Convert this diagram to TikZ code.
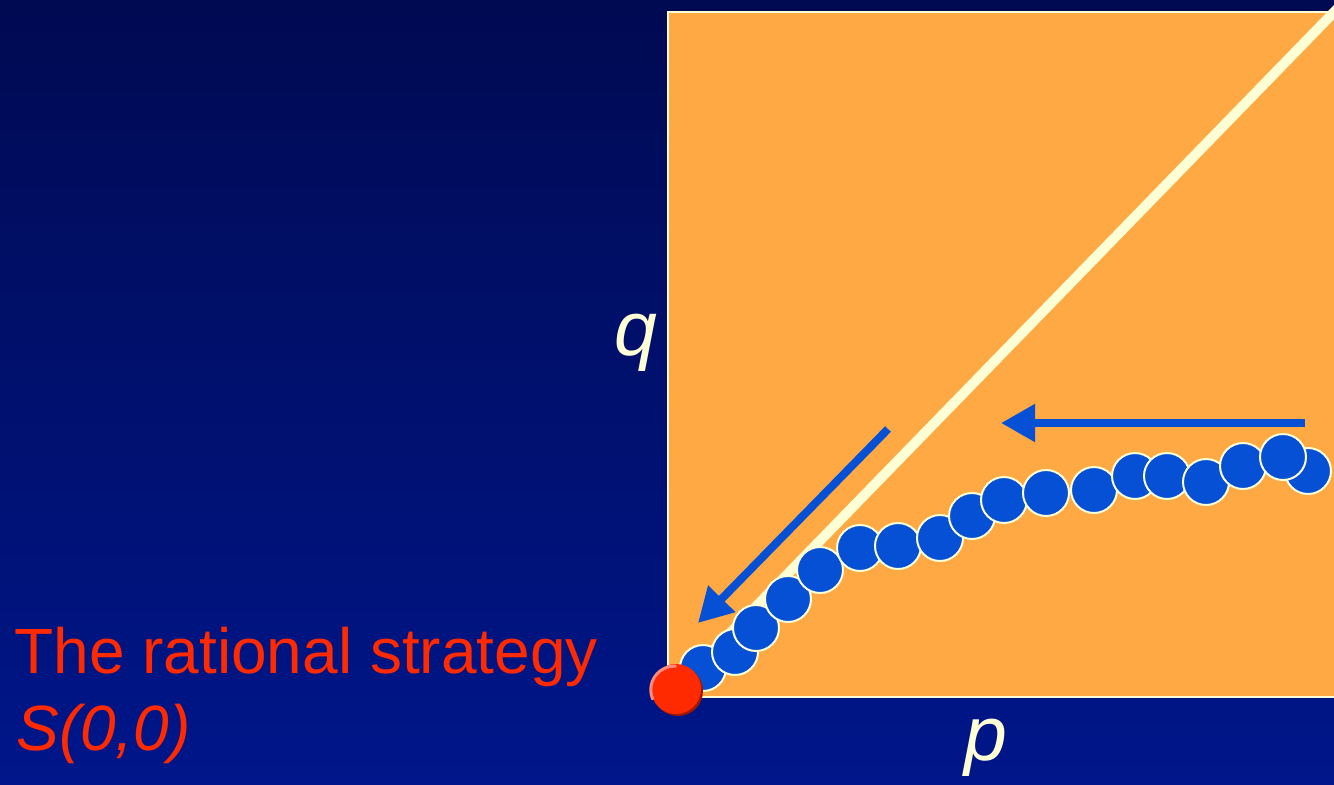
\documentclass[tikz,border=0pt]{standalone}
\usepackage{fontspec}
\setmainfont{Liberation Sans}
\usepackage{tikz}
\usetikzlibrary{positioning,arrows.meta}
\definecolor{bgtop}{HTML}{000A52}
\definecolor{bgbot}{HTML}{00168A}
\definecolor{plane}{HTML}{FEA943}
\definecolor{cream}{HTML}{FFFFD6}
\definecolor{beadblue}{HTML}{0550D5}
\definecolor{stratred}{HTML}{FF2A00}
\definecolor{shadowred}{HTML}{A01800}
\definecolor{rimpink}{HTML}{FF8A80}

\begin{document}
\begin{tikzpicture}[
    x=0.5pt, y=-0.5pt,
    bead/.style={circle, draw=cream, line width=1pt, fill=beadblue, minimum size=23pt, inner sep=0pt},
    strat/.style={circle, fill=stratred, minimum size=25pt, inner sep=0pt},
    axislabel/.style={text=cream, font=\fontsize{38.5}{44}\selectfont\itshape, inner sep=0pt, anchor=base},
    caption/.style={text=stratred, font=\fontsize{32}{38}\selectfont, inner sep=0pt, anchor=base west},
    flow/.style={-{Triangle[length=17pt, width=18pt]}, line width=4pt, draw=beadblue}
]
    \useasboundingbox (0,0) rectangle (1334,784);
    \fill[top color=bgtop, bottom color=bgbot] (0,0) rectangle (1334,784);

    % Strategy plane
    \draw[cream, line width=1pt, fill=plane] (668,12) rectangle (1345,697);
    \draw[cream, line width=5pt] (668,697) -- (1340,6);

    % Axis labels
    \node[axislabel] (qlab) at (636,355) {q};
    \node[axislabel] (plab) at (986,760) {p};

    % Path of the play
    \foreach \n/\px/\py in {1/703/668, 2/735/652, 3/756/628, 4/788/599, 5/820/570,
        6/860/548, 7/898/546, 8/940/538, 9/972/516, 10/1004/500, 11/1046/493,
        12/1094/490, 13/1135/476, 14/1167/476, 15/1206/482, 16/1243/466,
        17/1308/471, 18/1283/457}
        \node[bead] (b\n) at (\px,\py) {};

    % Direction arrows
    \coordinate (htail) at (1305,423);
    \coordinate (htip) at (1001,423);
    \coordinate (dtail) at (888,429);
    \coordinate (dtip) at (698,623);
    \draw[flow] (htail) -- (htip);
    \draw[flow] (dtail) -- (dtip);

    % Rational strategy
    \fill[shadowred] (678,691) circle (25);
    \node[strat] (s00) at (676,689) {};
    \draw[rimpink, line width=1.5pt] (s00.205) arc[start angle=205, end angle=85, radius=11.8pt];

    \node[caption] (ratl) at (14,673) {The rational strategy};
    \node[caption, font=\fontsize{32}{38}\selectfont\itshape] (sname) at (16,750) {S(0,0)};
\end{tikzpicture}
\end{document}
